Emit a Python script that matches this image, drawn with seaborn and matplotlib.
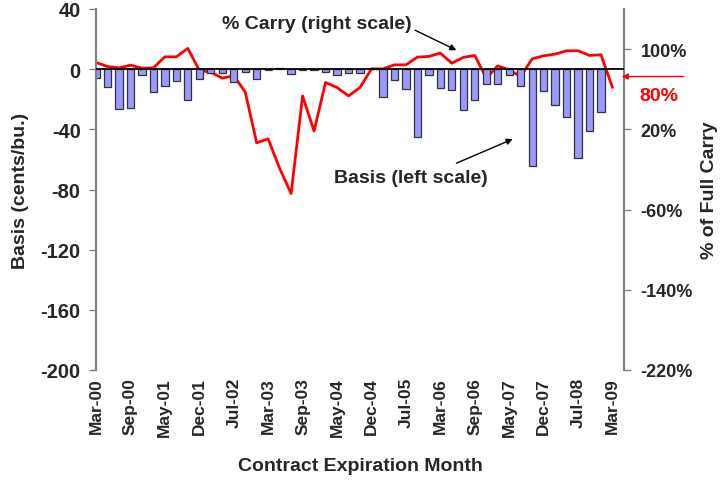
import numpy as np
import pandas as pd
import matplotlib
matplotlib.use("Agg")
import matplotlib.pyplot as plt
import seaborn as sns

months = ["Mar-00", "May-00", "Jul-00", "Sep-00", "Dec-00",
          "Mar-01", "May-01", "Jul-01", "Sep-01", "Dec-01",
          "Mar-02", "May-02", "Jul-02", "Sep-02", "Dec-02",
          "Mar-03", "May-03", "Jul-03", "Sep-03", "Dec-03",
          "Mar-04", "May-04", "Jul-04", "Sep-04", "Dec-04",
          "Mar-05", "May-05", "Jul-05", "Sep-05", "Dec-05",
          "Mar-06", "May-06", "Jul-06", "Sep-06", "Dec-06",
          "Mar-07", "May-07", "Jul-07", "Sep-07", "Dec-07",
          "Mar-08", "May-08", "Jul-08", "Sep-08", "Dec-08",
          "Mar-09"]

basis = [-6, -12, -26.4, -25.5, -4.2, -15, -10.9, -8, -20.2, -6.4,
         -2.7, -2.8, -8.2, -2.2, -6.4, -0.5, 1.1, -2.9, -0.5, -0.5,
         -2.2, -4.0, -2.7, -2.7, 0.0, -18.6, -7.3, -13.1, -45.0, -3.8,
         -12.6, -13.7, -27.0, -20.4, -9.9, -10.0, -3.8, -10.9, -64.7, -14.2,
         -23.7, -32.1, -59.2, -40.8, -28.8, np.nan]

carry = [86.7, 82.7, 81.3, 84.0, 81.0, 81.3, 92.3, 92.3, 100.7, 78.8,
         77.0, 71.0, 73.5, 57.3, 6.5, 10.5, -19.0, -44.0, 53.3, 18.3,
         66.7, 61.7, 53.3, 61.7, 80.3, 80.3, 84.3, 84.3, 92.0, 92.7,
         96.0, 86.0, 91.7, 93.7, 71.0, 83.3, 79.3, 72.7, 90.3, 93.3,
         95.0, 98.3, 98.3, 93.7, 94.3, 61.7]

left_ticks = [40, 0, -40, -80, -120, -160, -200]
right_ticks = [100, 20, -60, -140, -220]

sns.set_style("white")
plt.rcParams["font.family"] = ["Liberation Sans", "DejaVu Sans"]
plt.rcParams["font.weight"] = "bold"

df = pd.DataFrame({"month": months, "basis": basis, "carry": carry,
                   "pos": np.arange(len(months))})

fig = plt.figure(figsize=(7.22, 4.81), dpi=100)
ax = fig.add_axes([96 / 722, 1 - 371 / 481, (624 - 96) / 722, (371 - 10) / 481])

sns.barplot(data=df, x="month", y="basis", ax=ax, color="#9999FF",
            saturation=1, edgecolor="#333333", linewidth=0.9, width=0.64,
            errorbar=None, zorder=2)
ax.axhline(0, color="black", lw=1.3, zorder=3)

ax2 = ax.twinx()
sns.lineplot(data=df, x="pos", y="carry", ax=ax2, color="#FF0000", lw=2,
             zorder=4)

ax.set_xlim(0, 46)
ax.set_ylim(-200, 40)
ax2.set_ylim(-220, 140)
ax.set_yticks(left_ticks)
ax.set_yticklabels([str(t) for t in left_ticks], fontsize=14.5, fontweight="bold")
ax2.set_yticks(right_ticks)
ax2.set_yticklabels([f"{t}%" for t in right_ticks], fontsize=13, fontweight="bold")

xt = list(range(0, len(months), 3))
ax.set_xticks(xt)
ax.set_xticklabels([months[i] for i in xt], rotation=90, fontsize=12.5,
                   fontweight="bold")
ax.tick_params(axis="x", length=0, pad=5)
ax.tick_params(axis="y", length=5, color="#808080", width=1, direction="out",
               pad=6)
ax2.tick_params(axis="y", length=5, color="#808080", width=1, direction="out",
                pad=7)

for a in (ax, ax2):
    for s in ("top", "bottom"):
        a.spines[s].set_visible(False)
    a.spines["left"].set_color("#808080")
    a.spines["right"].set_color("#808080")
    a.spines["left"].set_linewidth(1.5)
    a.spines["right"].set_linewidth(1.5)
ax2.spines["left"].set_visible(False)
ax.spines["right"].set_visible(False)

ax2.set_xlabel("")
ax.set_xlabel("Contract Expiration Month", fontsize=14, fontweight="bold")
ax.xaxis.set_label_coords(0.5, -(458 - 371) / 361)
ax.set_ylabel("Basis (cents/bu.)", fontsize=14, fontweight="bold")
ax.yaxis.set_label_coords(-(96 - 29) / 528, 0.5)
ax2.set_ylabel("% of Full Carry", fontsize=14, fontweight="bold")
ax2.yaxis.set_label_coords((701 - 96) / 528, 0.5)

arrow_kw = dict(arrowstyle="-|>", color="black", lw=1, mutation_scale=9,
                shrinkA=0, shrinkB=0)
ax.text(19.2, 30.6, "% Carry (right scale)", ha="center", va="center",
        fontsize=14, fontweight="bold", zorder=6)
ax.annotate("", xy=(31.4, 12.6), xytext=(27.8, 25.9), arrowprops=arrow_kw,
            zorder=6)
ax.text(27.4, -71.8, "Basis (left scale)", ha="center", va="center",
        fontsize=14, fontweight="bold", zorder=6)
ax.annotate("", xy=(36.3, -46.5), xytext=(31.4, -62.5), arrowprops=arrow_kw,
            zorder=6)

ax.annotate("", xy=(45.8, -4.9), xytext=(51.2, -4.9), annotation_clip=False,
            arrowprops=dict(arrowstyle="-|>", color="#FF0000", lw=1,
                            mutation_scale=9, shrinkA=0, shrinkB=0))
ax.text(49.0, -17.3, "80%", color="#FF0000", ha="center", va="center",
        fontsize=14, fontweight="bold", clip_on=False)

ax.set_zorder(ax2.get_zorder() + 1)
ax.patch.set_visible(False)
ax2.set_zorder(0)

fig.savefig("out.png", dpi=100)
